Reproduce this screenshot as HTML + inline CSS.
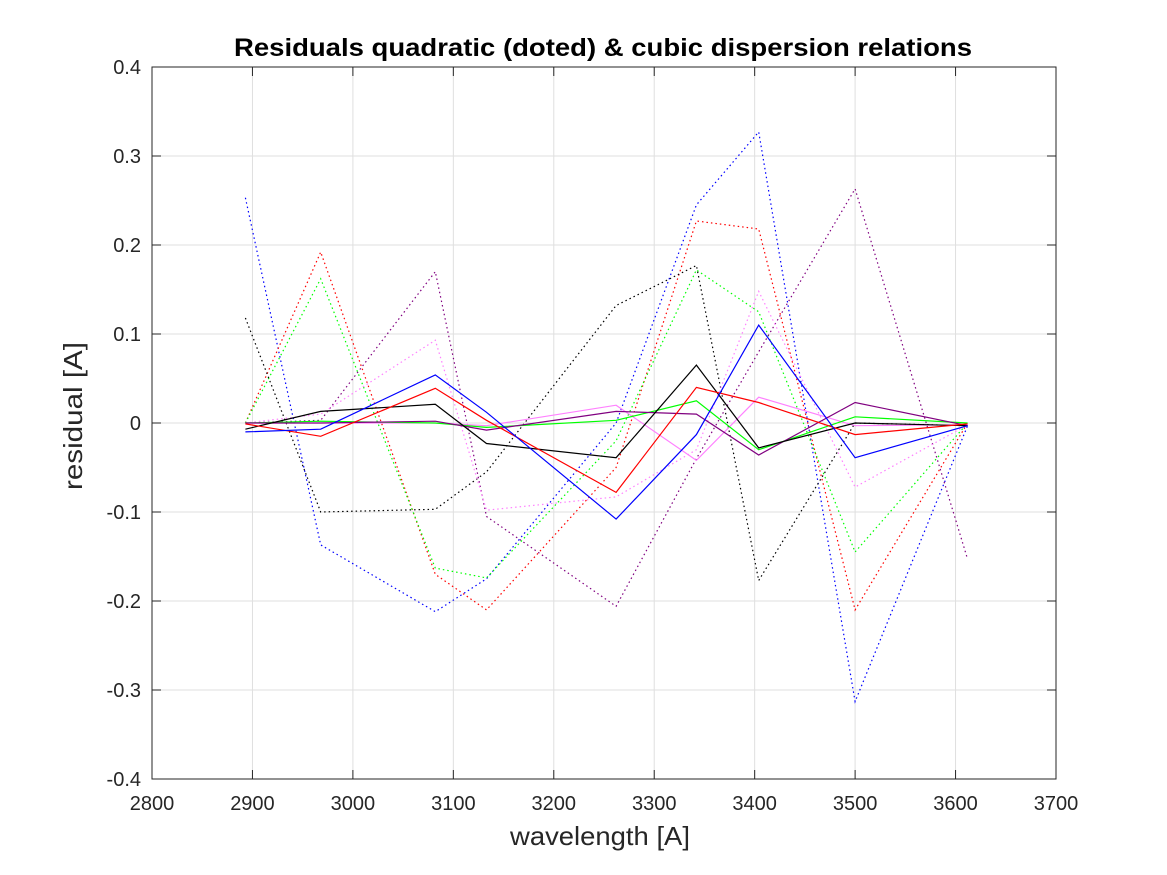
<!DOCTYPE html>
<html><head><meta charset="utf-8"><style>
body{margin:0;background:#fff;}
svg{display:block;font-family:"Liberation Sans",Arial,sans-serif;}
</style></head><body>
<svg id="chart" width="1167" height="875">
<rect x="0" y="0" width="1167" height="875" fill="#fff"/>
<g id="grid"></g>
<g id="series"></g>
<rect x="152" y="67" width="904" height="712" fill="none" stroke="#262626" stroke-width="1"/>
<g id="ticks"></g>
<text x="603" y="56" text-anchor="middle" font-size="25" font-weight="bold" fill="#000" textLength="738" lengthAdjust="spacingAndGlyphs">Residuals quadratic (doted) &amp; cubic dispersion relations</text>
<text x="600" y="845" text-anchor="middle" font-size="26" fill="#262626" textLength="180" lengthAdjust="spacingAndGlyphs">wavelength [A]</text>
<text transform="translate(82,416) rotate(-90)" text-anchor="middle" font-size="26" fill="#262626" textLength="148" lengthAdjust="spacingAndGlyphs">residual [A]</text>
</svg>
<script>
const xs = [2893, 2968, 3082, 3133, 3262, 3342, 3404, 3500, 3612];
const xTicks = [2800,2900,3000,3100,3200,3300,3400,3500,3600,3700];
const yTicks = [-0.4,-0.3,-0.2,-0.1,0,0.1,0.2,0.3,0.4];
const cubicBlue   = [-0.010,-0.007,0.054,0.012,-0.108,-0.013,0.110,-0.039,-0.003];
const cubicRed    = [-0.001,-0.015,0.039,0.003,-0.078,0.040,0.023,-0.013,-0.001];
const cubicBlack  = [-0.007,0.013,0.021,-0.023,-0.039,0.065,-0.028,0.000,-0.003];
const cubicGreen  = [0.000,0.002,0.000,-0.005,0.003,0.025,-0.030,0.007,0.000];
const cubicPurple = [0.000,0.000,0.002,-0.008,0.013,0.010,-0.036,0.023,-0.003];
const cubicPink   = [0.000,0.000,0.000,-0.003,0.020,-0.042,0.029,-0.003,-0.002];
const quadBlue    = [0.253,-0.137,-0.212,-0.175,0.000,0.245,0.327,-0.313,-0.003];
const quadRed     = [0.000,0.192,-0.170,-0.210,-0.050,0.227,0.218,-0.210,0.000];
const quadGreen   = [0.000,0.162,-0.163,-0.174,-0.020,0.172,0.125,-0.145,0.000];
const quadBlack   = [0.118,-0.100,-0.097,-0.055,0.132,0.177,-0.177,0.000,-0.003];
const quadPurple  = [0.000,0.003,0.170,-0.105,-0.206,-0.040,0.080,0.263,-0.153];
const quadPink    = [0.000,0.010,0.093,-0.098,-0.083,-0.030,0.148,-0.072,-0.002];

const NS="http://www.w3.org/2000/svg";
const X0=152,X1=1056,Y0=779,Y1=67;
function sx(v){return X0+(v-2800)/900*(X1-X0);}
function sy(v){return Y0-(v+0.4)/0.8*(Y0-Y1);}
function mk(t,a,p){const e=document.createElementNS(NS,t);for(const k in a)e.setAttribute(k,a[k]);p.appendChild(e);return e;}
const grid=document.getElementById('grid'),ticks=document.getElementById('ticks'),ser=document.getElementById('series');
xTicks.forEach(t=>{
  const l=mk('line',{x1:sx(t),x2:sx(t),y1:Y1,y2:Y0,stroke:'#dfdfdf'},grid);
  
  
  mk('line',{x1:sx(t),x2:sx(t),y1:Y0,y2:Y0-9,stroke:'#262626'},ticks);
  mk('line',{x1:sx(t),x2:sx(t),y1:Y1,y2:Y1+9,stroke:'#262626'},ticks);
  const tx=mk('text',{x:sx(t),y:810,'text-anchor':'middle','font-size':20,fill:'#262626'},ticks);
  tx.textContent=t;
  
  
});
yTicks.forEach(t=>{
  const l=mk('line',{x1:X0,x2:X1,y1:sy(t),y2:sy(t),stroke:'#dfdfdf'},grid);
  
  
  mk('line',{x1:X0,x2:X0+9,y1:sy(t),y2:sy(t),stroke:'#262626'},ticks);
  mk('line',{x1:X1,x2:X1-9,y1:sy(t),y2:sy(t),stroke:'#262626'},ticks);
  const tx=mk('text',{x:141,y:sy(t)+7,'text-anchor':'end','font-size':20,fill:'#262626'},ticks);
  tx.textContent=(t===0?'0':String(Math.round(t*10)/10));
  
  
});
const series=[
 [quadBlue,'#0000ff',1],[quadRed,'#ff0000',1],[quadGreen,'#00ff00',1],[quadBlack,'#000000',1],[quadPurple,'#800080',1],[quadPink,'#ff80ff',1],
 [cubicPink,'#ff80ff',0],[cubicGreen,'#00ff00',0],[cubicPurple,'#800080',0],[cubicBlack,'#000000',0],[cubicRed,'#ff0000',0],[cubicBlue,'#0000ff',0]
];
series.forEach(s=>{
  const pts=s[0].map((v,i)=>sx(xs[i]).toFixed(1)+','+sy(v).toFixed(1)).join(' ');
  const p=mk('polyline',{points:pts,fill:'none',stroke:s[1],'stroke-width':1.2},ser);
  if(s[2])p.setAttribute('stroke-dasharray','1.5 3');
  
  
});
</script>
</body></html>
